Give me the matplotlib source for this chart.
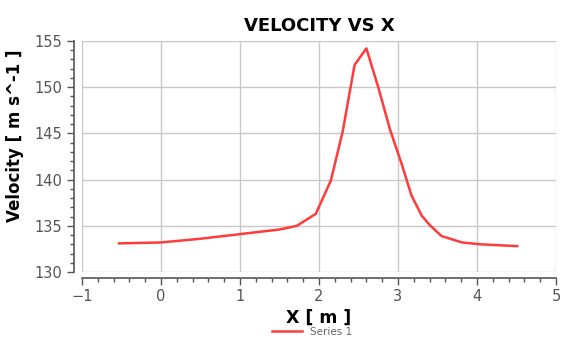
import numpy as np
import matplotlib.pyplot as plt
from matplotlib.ticker import MultipleLocator

# values
x_pos = [-0.53, 0.0, 0.5, 1.0, 1.5, 1.72, 1.96, 2.15, 2.3, 2.45, 2.6, 2.75, 2.9, 3.05, 3.17, 3.3, 3.4, 3.55, 3.81, 4.04, 4.51]
velocity = [133.1, 133.2, 133.6, 134.1, 134.6, 135.0, 136.3, 139.9, 145.2, 152.4, 154.2, 150.0, 145.4, 141.6, 138.3, 136.1, 135.1, 133.9, 133.2, 133.0, 132.8]

fig = plt.figure(figsize=(5.73, 3.39), dpi=100)
ax = fig.add_axes([0.1431, 0.1976, 0.8272, 0.6814])

line, = ax.plot(x_pos, velocity, color='#ff3b3b', linewidth=1.8, label='Series 1')

ax.set_xlim(-1, 5)
ax.set_ylim(130, 155)
ax.xaxis.set_major_locator(MultipleLocator(1))
ax.xaxis.set_minor_locator(MultipleLocator(0.2))
ax.yaxis.set_major_locator(MultipleLocator(5))
ax.yaxis.set_minor_locator(MultipleLocator(1))

ax.grid(True, which='major', color='#c8c8c8', linewidth=1.0)
ax.set_axisbelow(True)

for s in ['top', 'right']:
    ax.spines[s].set_visible(False)
ax.spines['left'].set_position(('outward', 6))
ax.spines['bottom'].set_position(('outward', 4))
for s in ['left', 'bottom']:
    ax.spines[s].set_color('#555555')
    ax.spines[s].set_linewidth(1.2)

ax.tick_params(which='major', length=5, width=1, colors='#555555', labelsize=10.5, labelcolor='#555555')
ax.tick_params(which='minor', length=3, width=1, colors='#555555')

ax.set_title('VELOCITY VS X', fontsize=13, fontweight='heavy', pad=7)
ax.set_xlabel('X [ m ]', fontsize=12.5, fontweight='bold', labelpad=3)
ax.set_ylabel('Velocity [ m s^-1 ]', fontsize=12, fontweight='bold')
ax.yaxis.set_label_coords(-0.122, 0.59)

fig.legend(handles=[line], loc='center', bbox_to_anchor=(0.545, 0.022), frameon=False,
           fontsize=7.5, labelcolor='#666666', handlelength=2.8)

fig.savefig('out.png', dpi=100)
